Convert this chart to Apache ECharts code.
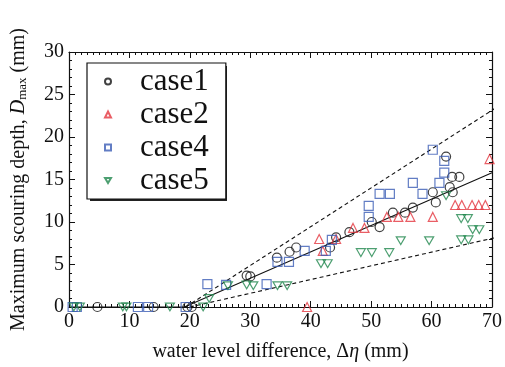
<!DOCTYPE html>
<html>
<head>
<meta charset="utf-8">
<script src="https://cdn.jsdelivr.net/npm/echarts@6/dist/echarts.min.js"></script>
<style>
  html, body { margin: 0; padding: 0; background: #fff; }
  #chart { width: 505px; height: 367px; }
</style>
</head>
<body>
<div id="chart"></div>
<script>
// [water level difference, max scouring depth]
var case1 = [[4.7,0],[14.0,0],[19.6,0],[20.3,0],[29.4,3.7],[30.0,3.6],[34.4,5.8],[36.5,6.5],[37.6,7.0],
  [43.2,7.0],[44.2,8.2],[46.4,8.8],[50.1,10.0],[51.4,9.4],[53.6,11.1],[55.6,11.1],[56.9,11.7],[60.2,13.5],
  [60.7,12.3],[62.4,17.7],[63.0,14.1],[63.5,13.5],[63.4,15.3],[64.6,15.3]];
var case2 = [[39.4,0],[41.4,8.0],[42.0,6.6],[44.2,8.0],[47.0,9.3],[48.9,9.3],[52.6,10.6],[54.5,10.6],[56.5,10.6],
  [60.2,10.6],[63.9,12.0],[65.0,12.0],[66.7,12.0],[67.8,12.0],[68.9,12.0],[69.6,17.4]];
var case4 = [[0.6,0],[1.3,0],[11.4,0],[13.1,0],[19.3,0],[22.9,2.7],[26.0,2.6],[32.7,2.7],[34.5,5.3],[36.4,5.3],
  [39.0,6.6],[42.5,6.6],[43.5,7.9],[49.6,11.9],[49.6,10.6],[51.4,13.3],[53.1,13.3],[56.9,14.6],[58.5,13.3],
  [60.2,18.5],[61.3,14.6],[62.1,17.2],[62.1,15.8]];
var case5 = [[0.8,0],[1.8,0],[8.9,0],[9.5,0],[16.7,0],[22.2,0],[23.2,1.0],[26.3,2.5],[29.4,2.6],[30.5,2.5],
  [34.5,2.5],[36.1,2.5],[41.7,5.1],[42.8,5.1],[48.3,6.4],[50.1,6.4],[53.0,6.4],[54.9,7.8],[59.6,7.8],
  [62.4,13.1],[64.9,10.4],[66.0,10.4],[66.8,9.1],[67.9,9.1],[64.9,7.9],[66.1,7.9]];
// fitted line and envelope lines
var fitLine = [[0,0],[19.1,0],[70,15.8]];
var upperLine = [[19.3,0],[71,23.6]];
var lowerLine = [[20,0],[70.8,8.2]];

var serif = 'Liberation Serif';
var myChart = echarts.init(document.getElementById('chart'));

function scatter(name, data, color, symbol) {
  return {
    name: name,
    type: 'scatter',
    data: data,
    symbol: symbol,
    symbolSize: 9,
    symbolKeepAspect: true,
    z: 3,
    itemStyle: { color: 'transparent', borderColor: color, borderWidth: 1.2 }
  };
}
function line(data, type) {
  return {
    type: 'line',
    data: data,
    showSymbol: false,
    clip: false,
    silent: true,
    z: 2,
    lineStyle: { color: '#111', width: 1.1, type: type }
  };
}

var tickStyle = { inside: true, length: 6, lineStyle: { color: '#111', width: 1 } };
var minorStyle = { show: true, length: 3, lineStyle: { color: '#111', width: 1 } };

var option = {
  animation: false,
  grid: { left: 69, right: 13, top: 52, bottom: 60 },
  // drop shadow behind the legend box
  graphic: [{
    type: 'rect', left: 90, top: 66, z: 1,
    shape: { width: 137, height: 135 },
    style: { fill: '#222' }
  }],
  legend: {
    data: ['case1', 'case2', 'case4', 'case5'],
    orient: 'vertical',
    left: 87,
    top: 63,
    z: 5,
    itemWidth: 6,
    itemHeight: 6,
    itemGap: 0,
    padding: [2, 17, 2, 17],
    backgroundColor: '#fff',
    borderColor: '#111',
    borderWidth: 1.2,
    textStyle: { fontFamily: serif, fontSize: 31, color: '#111', lineHeight: 33, padding: [0, 0, 0, 24] }
  },
  xAxis: [{
    type: 'value', min: 0, max: 70, interval: 10,
    name: 'water level difference, Δ{i|η} (mm)',
    nameLocation: 'middle', nameGap: 35,
    nameTextStyle: { fontFamily: serif, fontSize: 20, color: '#111',
      rich: { i: { fontFamily: serif, fontSize: 20, fontStyle: 'italic', color: '#111' } } },
    axisLine: { lineStyle: { color: '#111', width: 1.2 } },
    axisTick: tickStyle,
    minorTick: Object.assign({ splitNumber: 10 }, minorStyle),
    splitLine: { show: false },
    axisLabel: { fontFamily: serif, fontSize: 20, color: '#111', margin: 5 }
  }, {
    type: 'value', min: 0, max: 70, interval: 10, position: 'top',
    axisLine: { show: true, onZero: false, lineStyle: { color: '#111', width: 1.2 } },
    axisTick: tickStyle,
    minorTick: Object.assign({ splitNumber: 10 }, minorStyle),
    splitLine: { show: false },
    axisLabel: { show: false }
  }],
  yAxis: [{
    type: 'value', min: 0, max: 30, interval: 5,
    name: 'Maximum scouring depth, {i|D}{s|max} (mm)',
    nameLocation: 'middle', nameGap: 40,
    nameTextStyle: { fontFamily: serif, fontSize: 20, color: '#111',
      rich: {
        i: { fontFamily: serif, fontSize: 20, fontStyle: 'italic', color: '#111' },
        s: { fontFamily: serif, fontSize: 13, color: '#111', verticalAlign: 'bottom', padding: [8, 0, 0, 0] }
      } },
    axisLine: { lineStyle: { color: '#111', width: 1.2 } },
    axisTick: tickStyle,
    minorTick: Object.assign({ splitNumber: 5 }, minorStyle),
    splitLine: { show: false },
    axisLabel: { fontFamily: serif, fontSize: 20, color: '#111', margin: 5 }
  }, {
    type: 'value', min: 0, max: 30, interval: 5, position: 'right',
    axisLine: { show: true, onZero: false, lineStyle: { color: '#111', width: 1.2 } },
    axisTick: tickStyle,
    minorTick: Object.assign({ splitNumber: 5 }, minorStyle),
    splitLine: { show: false },
    axisLabel: { show: false }
  }],
  series: [
    line(fitLine, 'solid'),
    line(upperLine, [4, 3]),
    line(lowerLine, [4, 3]),
    scatter('case1', case1, '#111111', 'circle'),
    scatter('case2', case2, '#e3363f', 'triangle'),
    scatter('case4', case4, '#3b5db5', 'rect'),
    scatter('case5', case5, '#21874d', 'path://M0,0 L10,0 L5,8.66 Z')
  ]
};
myChart.setOption(option);
</script>
</body>
</html>
